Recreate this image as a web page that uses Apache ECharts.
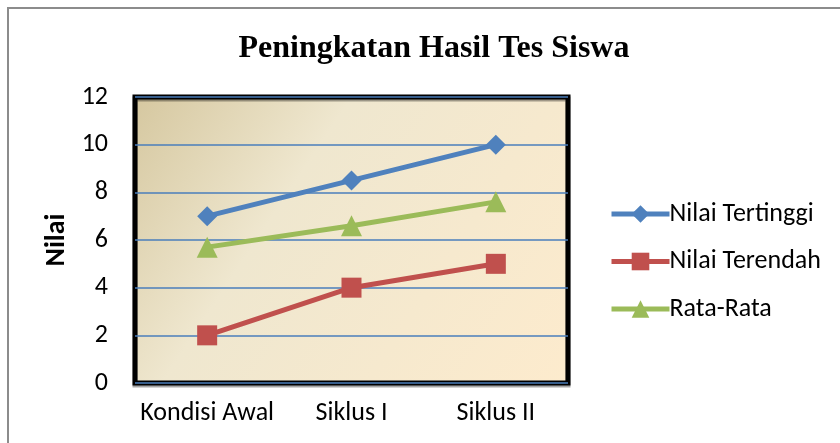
<!DOCTYPE html>
<html>
<head>
<meta charset="utf-8">
<script src="https://cdn.jsdelivr.net/npm/echarts@6/dist/echarts.min.js"></script>
<style>
  html, body { margin: 0; padding: 0; background: #fff; }
  #chart { width: 840px; height: 443px; }
</style>
</head>
<body>
<div id="chart"></div>
<script>
var categories = ['Kondisi Awal', 'Siklus I', 'Siklus II'];
var nilaiTertinggi = [7, 8.5, 10];
var nilaiTerendah = [2, 4, 5];
var rataRata = [5.7, 6.6, 7.6];
var yTicks = [0, 2, 4, 6, 8, 10, 12];

var chart = echarts.init(document.getElementById('chart'));

var labelFont = 'Carlito, "Open Sans", "Noto Sans", sans-serif';

var option = {
  backgroundColor: '#fff',
  title: {
    text: 'Peningkatan Hasil Tes Siswa',
    left: 429,
    textAlign: 'center',
    top: 28,
    textStyle: {
      fontFamily: '"Liberation Serif", "DejaVu Serif", serif',
      fontWeight: 'bold',
      fontSize: 32,
      color: '#000'
    }
  },
  graphic: [{
    type: 'rect',
    shape: { x: 8, y: 8, width: 900, height: 500 },
    style: { fill: 'none', stroke: '#8c8c8c', lineWidth: 2 },
    silent: true
  }],
  legend: {
    orient: 'vertical',
    left: 604,
    top: 196,
    itemWidth: 58,
    itemHeight: 22,
    itemGap: 21.5,
    lineStyle: { width: 5 },
    textStyle: { fontFamily: labelFont, fontSize: 26, color: '#000', padding: [0, 0, 0, -5] },
    data: ['Nilai Tertinggi', 'Nilai Terendah', 'Rata-Rata']
  },
  grid: {
    left: 135,
    right: 272,
    top: 97,
    bottom: 60,
    show: true,
    borderColor: '#000',
    borderWidth: 5,
    shadowColor: 'rgba(0,0,0,0.35)',
    shadowOffsetY: 2,
    backgroundColor: new echarts.graphic.LinearGradient(0, 0, 1, 1, [
      { offset: 0, color: '#d5c79f' },
      { offset: 0.35, color: '#efe7cf' },
      { offset: 1, color: '#fdebcd' }
    ])
  },
  xAxis: {
    type: 'category',
    data: categories,
    boundaryGap: true,
    axisLine: { show: false },
    axisTick: { show: false },
    axisLabel: { fontFamily: labelFont, fontSize: 26, color: '#000', margin: 17, interval: 0 }
  },
  yAxis: {
    type: 'value',
    min: yTicks[0],
    max: yTicks[yTicks.length - 1],
    interval: 2,
    name: 'Nilai',
    nameLocation: 'middle',
    nameGap: 64,
    nameRotate: 90,
    nameTextStyle: { fontFamily: labelFont, fontSize: 28, fontWeight: 'bold', color: '#000' },
    axisLine: { show: false },
    axisTick: { show: false },
    axisLabel: { fontFamily: labelFont, fontSize: 26, color: '#000', margin: 27 },
    splitLine: { lineStyle: { color: '#4a7ebb', width: 1.5 } }
  },
  series: [{
    name: 'Nilai Tertinggi',
    type: 'line',
    data: nilaiTertinggi,
    symbol: 'diamond',
    symbolSize: 20,
    lineStyle: { width: 5, color: '#4f81bd' },
    itemStyle: { color: '#4f81bd' }
  }, {
    name: 'Nilai Terendah',
    type: 'line',
    data: nilaiTerendah,
    symbol: 'rect',
    symbolSize: 20,
    lineStyle: { width: 5, color: '#c0504d' },
    itemStyle: { color: '#c0504d' }
  }, {
    name: 'Rata-Rata',
    type: 'line',
    data: rataRata,
    symbol: 'triangle',
    symbolSize: 21,
    lineStyle: { width: 5, color: '#9bbb59' },
    itemStyle: { color: '#9bbb59' }
  }]
};

chart.setOption(option);
</script>
</body>
</html>
